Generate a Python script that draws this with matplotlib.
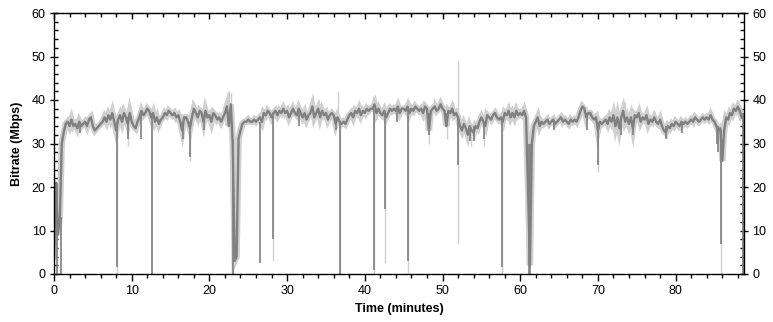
import numpy as np
import matplotlib
matplotlib.use("Agg")
import matplotlib.pyplot as plt
from matplotlib.ticker import MultipleLocator

# averaged bitrate (Mbps), one value every 0.25 minute
STEP = 0.25
bitrate = [
    4, 21, 9, 13,            # 0
    30, 32.5, 34.5, 35,      # 1
    34, 35.5, 34, 34.5,      # 2
    33.5, 35, 34, 34.5,      # 3
    35, 34, 35.5, 36,        # 4
    34, 33, 33.5, 34,        # 5
    34.5, 35, 36, 35,        # 6
    36.5, 35.5, 37, 35,      # 7
    33, 35.5, 36.5, 35,      # 8
    37, 36, 34.5, 37,        # 9
    35, 34, 33.5, 35,        # 10
    36, 37.5, 36.5, 37,      # 11
    38, 37.5, 36, 37,        # 12
    35, 36, 34.5, 35.5,      # 13
    36, 37, 36.5, 37.5,      # 14
    37, 36.5, 37, 36,        # 15
    36.5, 35, 33, 36,        # 16
    36, 35, 33.5, 36,        # 17
    38, 37, 36, 37.5,        # 18
    37, 35, 37.5, 36,        # 19
    36.5, 35, 37, 36.5,      # 20
    35.5, 36, 35, 36,        # 21
    37, 38.5, 34, 39,        # 22
    30, 3, 4, 31,            # 23
    33, 34.5, 35, 35,        # 24
    35.5, 35, 35, 35.5,      # 25
    35, 35.5, 36, 35,        # 26
    37, 36.5, 37.5, 37,      # 27
    36, 37, 37.5, 36.5,      # 28
    37.5, 37, 38, 37,        # 29
    37.5, 36, 37, 38,        # 30
    37, 36.5, 38, 37,        # 31
    36, 37, 35.5, 36.5,      # 32
    37, 38.5, 36, 37,        # 33
    38, 36, 37.5, 36.5,      # 34
    37, 35.5, 36.5, 37,      # 35
    36.5, 34.5, 36, 35,      # 36
    34.5, 35, 34.5, 35.5,    # 37
    36.5, 37, 36, 37.5,      # 38
    37, 38, 36.5, 37.5,      # 39
    37, 38, 37.5, 38,        # 40
    38, 39, 37, 38,          # 41
    37, 36.5, 37.5, 36,      # 42
    37, 38, 37.5, 38,        # 43
    37.5, 38.5, 37, 38,      # 44
    38, 37.5, 38.5, 37,      # 45
    38, 37.5, 38.5, 38,      # 46
    37.5, 38, 37, 38.5,      # 47
    38, 33, 37.5, 38,        # 48
    38.5, 37.5, 38, 39,      # 49
    38, 37.5, 34, 37.5,      # 50
    37, 38, 36.5, 37,        # 51
    36, 34, 33, 34.5,        # 52
    33.5, 32, 34, 33,        # 53
    32.5, 34, 33.5, 35,      # 54
    36, 35, 34, 36.5,        # 55
    36, 35.5, 36.5, 37,      # 56
    36, 35.5, 36, 35,        # 57
    37, 36.5, 37.5, 36,      # 58
    37, 36, 37.5, 36.5,      # 59
    37, 36.5, 37.5, 36,      # 60
    20, 2, 30, 34,           # 61
    35, 36, 34, 35,          # 62
    34.5, 35, 35.5, 34.5,    # 63
    35, 35.5, 34.5, 35,      # 64
    35.5, 36, 35, 35.5,      # 65
    35, 34.5, 35.5, 35,      # 66
    35.5, 35, 36, 37.5,      # 67
    38.5, 38, 36, 37,        # 68
    37, 36, 35.5, 36,        # 69
    33, 35, 34.5, 35,        # 70
    35.5, 34.5, 36, 35,      # 71
    36.5, 34, 36, 33.5,      # 72
    36, 37.5, 35, 36,        # 73
    34.5, 36, 33.5, 36.5,    # 74
    36, 37, 35, 36,          # 75
    35.5, 36.5, 34.5, 35.5,  # 76
    35, 36, 35, 34.5,        # 77
    35.5, 34, 33, 32.5,      # 78
    34, 33.5, 34.5, 34,      # 79
    35, 34.5, 34, 35,        # 80
    34.5, 35, 34.5, 35,      # 81
    35.5, 35, 36, 35.5,      # 82
    35, 35.5, 36, 35.5,      # 83
    36, 35.5, 36.5, 35.5,    # 84
    35, 34, 33, 33.5,        # 85
    26, 33, 36, 35.5,        # 86
    37, 36.5, 38, 37.5,      # 87
    38.5, 37.5, 36,          # 88
]

# short drops in the averaged trace (minute, lowest value, level around it)
dip_time = [0.35, 0.9, 8.05, 12.6, 23.1, 26.5, 28.2, 36.85, 41.2, 42.6,
            45.6, 48.25, 52.0, 57.6, 61.1, 61.2, 70.0, 85.5, 85.9, 88.65, 88.75,
            9.5, 11.2, 16.6, 17.5, 36.3, 50.6, 53.5, 54.0, 55.3, 68.6,
            73.0, 74.5, 78.8, 85.3, 3.3, 19.3, 31.5, 44.2, 64.4, 80.8]
dip_low = [0, 0, 1.5, 0, 0, 2.5, 8, 0, 1, 15,
           3, 32, 25, 1.5, 0, 0, 25, 28, 7, 0, 0,
           31, 31, 31, 27, 33, 34, 30.5, 30.5, 31, 33,
           32, 32, 31, 30, 32.5, 33, 34, 35, 33, 32.5]
dip_top = [21, 13, 35, 37, 31, 35, 37, 35, 38, 37,
           38, 37, 36, 36, 30, 30, 35, 34, 33, 37, 37,
           36, 37, 35, 35, 36, 37, 34, 34, 35, 37,
           36, 35, 34, 34, 35, 36, 37, 38, 35, 34.5]

# peak trace outliers (light grey)
peak_low_time = [8.05, 28.2, 36.85, 41.2, 42.6, 45.6, 48.25, 50.6, 52.05, 57.6, 70.0, 85.9,
                 9.5, 17.5, 53.7, 55.3, 74.5]
peak_low = [0, 3, 0, 0, 2.5, 0, 30, 31, 7, 0, 23.5, 0,
            29.5, 26, 29.5, 29.5, 30.5]
peak_low_top = [35, 37, 35, 38, 37, 38, 37, 37, 36, 36, 35, 33,
                36, 35, 34, 35, 35]
peak_high_time = [22.5, 36.6, 41.1, 45.65, 52.0, 22.8, 48.9, 73.5]
peak_high = [42, 42, 41, 40, 49, 41.5, 40.5, 39.5]
peak_high_base = [38, 37, 38, 38, 37, 38, 38, 36]

DARK = "#808080"
LIGHT = "#d0d0d0"

plt.rcParams["font.family"] = ["Liberation Sans", "DejaVu Sans"]

fig = plt.figure(figsize=(7.73, 3.22), dpi=100)
ax = fig.add_axes([54 / 773, 1 - 274 / 322, 690 / 773, 261 / 322])

t = np.arange(len(bitrate)) * STEP

# light envelope underneath, then dark average on top
ax.plot(t, bitrate, color=LIGHT, lw=4.6, solid_joinstyle="miter")
ax.vlines(peak_low_time, peak_low, peak_low_top, color=LIGHT, lw=1)
ax.vlines(peak_high_time, peak_high_base, peak_high, color=LIGHT, lw=1)
ax.plot(t, bitrate, color=DARK, lw=1.7)
ax.vlines(dip_time, dip_low, dip_top, color=DARK, lw=1.2)

ax.set_xlim(0, 88.8)
ax.set_ylim(0, 60)
ax.xaxis.set_major_locator(MultipleLocator(10))
ax.xaxis.set_minor_locator(MultipleLocator(2))
ax.yaxis.set_major_locator(MultipleLocator(10))
ax.yaxis.set_minor_locator(MultipleLocator(2))

ax.tick_params(axis="y", which="major", direction="inout", length=6, width=1,
               left=True, right=True, labelleft=True, labelright=True,
               labelsize=9, pad=3)
ax.tick_params(axis="y", which="minor", direction="in", length=3, width=1,
               left=True, right=True)
ax.tick_params(axis="x", which="major", direction="out", length=5, width=1,
               labelsize=9, pad=3)
ax.tick_params(axis="x", which="minor", direction="out", length=3, width=1)

top = ax.secondary_xaxis("top")
top.xaxis.set_major_locator(MultipleLocator(10))
top.xaxis.set_minor_locator(MultipleLocator(2))
top.tick_params(which="major", direction="in", length=4, width=1, labeltop=False)
top.tick_params(which="minor", direction="in", length=3, width=1)

for s in ax.spines.values():
    s.set_linewidth(1)

ax.set_xlabel("Time (minutes)", fontsize=9, fontweight="bold", labelpad=4)
ax.set_ylabel("Bitrate (Mbps)", fontsize=9, fontweight="bold", labelpad=6)

fig.savefig("out.png", dpi=100)
